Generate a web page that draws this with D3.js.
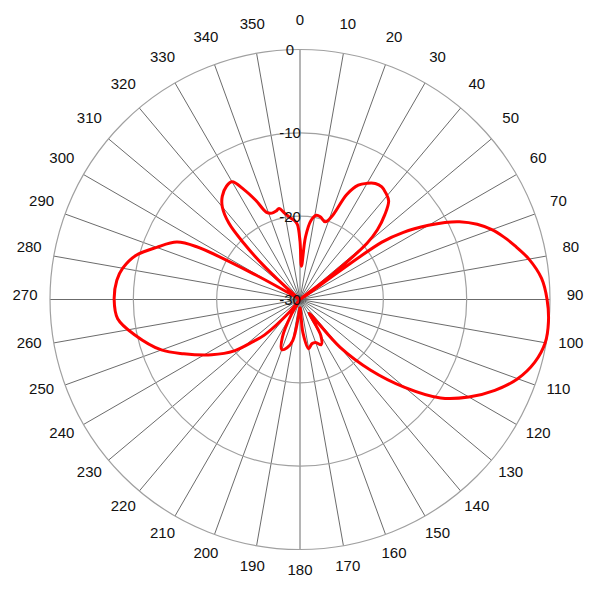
<!DOCTYPE html>
<html>
<head>
<meta charset="utf-8">
<script src="https://cdn.jsdelivr.net/npm/d3@7"></script>
<style>
  html, body { margin: 0; padding: 0; background: #fff; }
  svg text { font-family: "Liberation Sans", Arial, sans-serif; font-size: 15px; fill: #111; }
</style>
</head>
<body>
<svg id="chart" width="600" height="600"></svg>
<script>
// Pattern data (angle in degrees, clockwise from top; level in dB)
const angles = [0, 2.5, 5, 8, 11, 14, 18, 21, 24, 27, 30, 33, 36, 39, 42, 45, 48, 50, 52, 53.5,
  55, 57, 60, 62, 64, 67, 70, 73, 76, 80, 85, 90, 95, 100, 105, 110, 115, 120, 125, 130, 135, 140,
  143, 146, 150, 155, 160, 165, 170, 175, 180, 185, 190, 195, 200, 205, 210, 215, 220, 225,
  228, 232, 238, 245, 250, 258, 264, 270, 276, 280, 285, 290, 295, 297, 299, 302, 306, 310,
  313, 315, 317, 320, 323, 327, 330, 333, 336, 339, 342, 345, 347, 350, 353, 356, 358];
const levels = [-23, -26, -22.5, -20.4, -19.7, -19.8, -20.2, -19.3, -16.2, -14.6, -13.9, -13.4, -13.3, -13.6, -14.1, -15.6, -17.5, -19.5, -25, -30,
  -18, -15.2, -12.2, -10.3, -8.7, -6.9, -5.5, -4.4, -3.4, -2.1, -0.9, -0.35, -0.07, -0.12, -0.85, -2.2, -4.2, -6.6, -9.4, -13.6, -18, -22.5,
  -27, -28, -25, -24, -24.5, -24.5, -24, -26, -29, -28, -25, -24, -23.6, -25, -28, -30, -28, -24,
  -22.5, -20, -17.5, -14.6, -12.3, -9.7, -8, -7.7, -7.9, -8.4, -9.6, -11.7, -13.7, -16, -24, -30, -30, -29,
  -24, -20.5, -17.5, -15.5, -14.5, -13.8, -13.7, -15.2, -17, -18.8, -19.1, -19, -18.8, -19.5, -20.1, -20.5, -21];

const ringLevels = [-30, -20, -10, 0];
const ringLabels = ["-30", "-20", "-10", "0"];
const spokeAngles = d3.range(0, 360, 10);
const angleLabels = spokeAngles.map(a => String(a));

const cx = 300, cy = 299.5, R = 250;
const svg = d3.select("#chart");
svg.append("rect").attr("width", 600).attr("height", 600).attr("fill", "#fff");
const g = svg.append("g").attr("transform", `translate(${cx},${cy})`);

const r = d3.scaleLinear().domain([-30, 0]).range([0, R]).clamp(true);
const rad = d => d * Math.PI / 180;

// spokes
g.selectAll("line.spoke").data(spokeAngles).join("line")
  .attr("class", "spoke")
  .attr("x1", 0).attr("y1", 0)
  .attr("x2", d => r(0) * Math.sin(rad(d)))
  .attr("y2", d => -r(0) * Math.cos(rad(d)))
  .attr("stroke", "#5a5a5a").attr("stroke-width", 0.9);

// rings
g.selectAll("circle.ring").data(ringLevels.filter(v => v > -30)).join("circle")
  .attr("class", "ring")
  .attr("r", d => r(d))
  .attr("fill", "none")
  .attr("stroke", "#a0a0a0").attr("stroke-width", 1.2);

// pattern
const pts = angles.map((a, i) => [rad(a), r(levels[i])]);
const line = d3.lineRadial().curve(d3.curveCatmullRomClosed.alpha(0.5));
g.append("path").attr("d", line(pts))
  .attr("fill", "none").attr("stroke", "#ff0000").attr("stroke-width", 3)
  .attr("stroke-linejoin", "round");

// ring labels
g.selectAll("text.rl").data(ringLevels).join("text")
  .attr("class", "rl")
  .attr("x", -10).attr("y", d => -r(d))
  .attr("text-anchor", "middle").attr("dominant-baseline", "central")
  .text((d, i) => ringLabels[i]);

// angle labels
const LR = 275;
g.selectAll("text.al").data(spokeAngles).join("text")
  .attr("class", "al")
  .attr("x", d => LR * Math.sin(rad(d)))
  .attr("y", d => -LR * Math.cos(rad(d)) - 5)
  .attr("text-anchor", "middle").attr("dominant-baseline", "central")
  .text((d, i) => angleLabels[i]);
</script>
</body>
</html>
